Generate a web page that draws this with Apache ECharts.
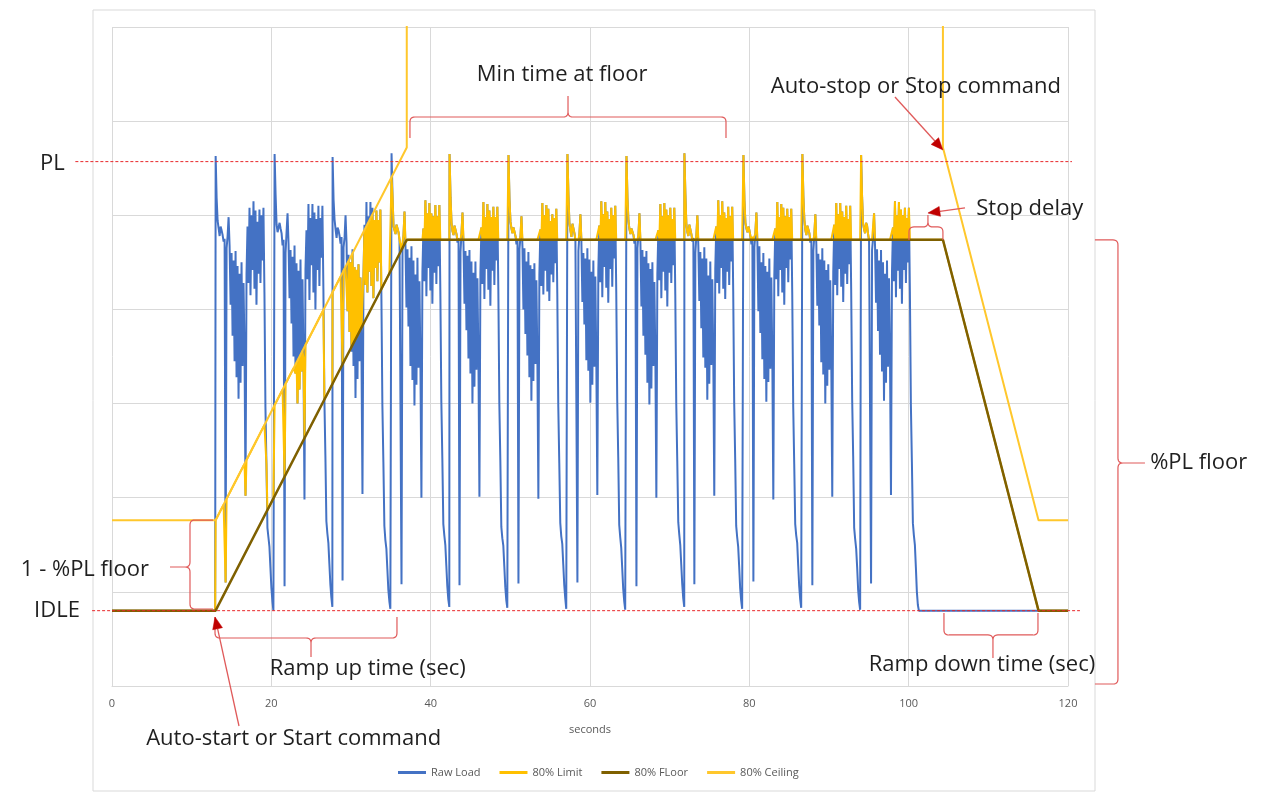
<!DOCTYPE html>
<html><head><meta charset="utf-8">
<script src="https://cdn.jsdelivr.net/npm/echarts@6/dist/echarts.min.js"></script>
<style>html,body{margin:0;padding:0;background:#fff}#c{width:1270px;height:812px}</style>
</head><body><div id="c"></div>
<script>
// ---------- data ----------
const IDLE = 80;
const PL = 557;
const xMin = 0, xMax = 120, xStep = 20;
const yMin = 0, yMax = 700, yStep = 100;

const floorTimes  = [0, 13, 37, 104.3, 116.3, 120];
const floorValues = [80, 80, 474, 474, 80, 80];

const ceilingTimes  = [0, 13, 37, 37, 104.3, 104.3, 116.3, 120];
const ceilingValues = [176, 176, 572, 1000, 1000, 572, 176, 176];

const rawLead = [[0, 80], [12.95, 80]];
const rawTail = [[104.3, 80], [116.3, 80], [120, 80]];
const cycleStep = 0.125;
const cycleStarts = [13.01, 20.41, 27.69, 35.09, 42.37, 49.77, 57.17, 64.58, 71.85, 79.26, 86.66, 94.03];
const cycle1  = [563,518,494,486,478,488,484,479,472,475,110,465,478,498,468,405,460,372,452,345,462,328,446,305,438,322,450,340,428,355,202,438,488,428,508,415,500,442,515,422,505,405,493,438,506,428,500,452,508,418,296,236,168,158,148,126,104,90,80];
const cycle2  = [565,522,490,482,480,492,486,481,468,474,106,460,482,502,470,412,463,385,456,350,468,332,449,300,441,315,453,334,432,348,198,442,484,432,512,410,497,447,512,418,503,400,496,442,510,425,497,455,510,422,305,245,175,162,152,130,108,94,84];
const cycle3  = [562,516,495,485,476,487,484,478,470,477,112,466,476,500,471,398,458,376,450,355,464,340,445,306,442,326,448,345,434,352,204,436,490,426,514,418,499,440,514,425,508,412,495,444,505,430,495,450,506,415,298,238,170,155,146,124,102,90,82];
const cycle4  = [566,520,488,484,480,490,490,482,474,472,108,463,479,504,466,402,464,382,455,340,467,325,452,298,437,320,455,338,430,342,200,440,486,430,516,414,502,444,513,420,502,406,499,439,511,427,499,446,511,420,302,242,172,160,150,128,106,92,84];
const cycle5  = [565,519,492,483,479,489,487,480,471,476,107,461,481,503,469,406,462,378,457,348,463,332,451,300,439,318,451,336,433,346,201,439,487,427,514,411,498,443,512,421,505,404,498,441,509,426,498,452,509,421,300,240,169,157,149,127,105,91,83];
const cycle6  = [564,517,493,486,481,487,485,478,469,474,109,464,477,499,467,400,465,374,451,351,461,328,447,303,443,324,449,342,431,347,199,437,485,425,513,416,500,441,511,419,507,409,494,437,501,429,497,449,507,417,297,237,173,159,151,129,107,93,82];
const cycle7  = [565,521,491,484,477,491,489,481,473,475,110,462,480,501,472,408,460,384,454,346,465,335,453,301,440,320,452,339,435,344,203,441,489,429,515,413,501,445,514,423,504,407,496,443,508,424,500,454,510,419,303,243,171,158,147,125,103,90,81];
const cycle8  = [563,518,494,485,480,486,486,479,470,473,106,465,479,502,470,403,463,372,456,352,462,322,449,299,443,316,450,340,429,349,200,438,484,431,512,412,499,440,513,420,506,403,500,439,508,428,496,447,508,416,299,239,174,161,150,129,108,93,84];
const cycle9  = [566,522,490,482,478,490,488,480,472,476,108,460,478,500,468,409,461,380,454,349,466,338,454,304,436,321,451,341,432,351,202,443,488,428,516,417,500,444,515,422,503,411,497,440,509,426,499,451,509,420,301,241,170,158,148,127,104,91,82];
const cycle10 = [564,516,492,486,482,488,484,478,469,477,111,466,481,503,471,398,467,375,450,347,460,326,446,302,440,323,454,337,434,348,198,436,486,432,514,414,498,442,512,418,508,405,499,444,507,429,498,453,507,418,296,236,172,160,152,128,106,92,83];
const cycle11 = [565,520,495,484,479,489,487,481,471,475,107,462,479,501,469,404,459,383,453,344,465,331,452,300,442,319,448,336,431,345,201,440,490,426,513,415,501,443,513,424,504,408,498,438,510,427,496,448,510,421,304,244,168,156,146,126,102,89,81];
const cycle12 = [564,519,491,485,481,492,489,480,473,474,109,463,476,502,467,407,464,377,452,352,463,334,450,303,438,322,452,339,433,350,203,439,487,430,515,413,500,441,514,422,506,406,500,442,508,428,497,450,508,419,298,238,173,160,150,126,100,86,80];
const cycleLoads = [cycle1, cycle2, cycle3, cycle4, cycle5, cycle6, cycle7, cycle8, cycle9, cycle10, cycle11, cycle12];

const seriesNames = ['Raw Load', '80% Limit', '80% FLoor', '80% Ceiling'];

// ---------- build series ----------
function zip(ts, vs) { return ts.map((t, i) => [t, vs[i]]); }
function lineAt(ts, vs, t) {
  for (let i = 0; i < ts.length - 1; i++) {
    if (t >= ts[i] && t <= ts[i + 1] && ts[i + 1] > ts[i]) {
      return vs[i] + (vs[i + 1] - vs[i]) * (t - ts[i]) / (ts[i + 1] - ts[i]);
    }
  }
  return vs[vs.length - 1];
}
const rawData = rawLead.slice();
cycleStarts.forEach((t0, k) => {
  cycleLoads[k].forEach((v, i) => rawData.push([+(t0 + i * cycleStep).toFixed(4), v]));
});
rawTail.forEach(p => rawData.push(p));
// 80% Limit = raw load held between the floor and the ceiling
const limitData = rawData.map(([t, v]) => {
  const f = lineAt(floorTimes, floorValues, t);
  const c = lineAt(ceilingTimes, ceilingValues, t);
  return [t, Math.min(Math.max(v, f), c)];
});

const chart = echarts.init(document.getElementById('c'), null, { renderer: 'canvas' });
const FONT = '"Open Sans", "Noto Sans", sans-serif';
chart.setOption({
  animation: false,
  backgroundColor: '#ffffff',
  grid: { left: 112, right: 202, top: 27, bottom: 126, containLabel: false, outerBoundsMode: 'none' },
  legend: {
    data: seriesNames, left: 393, top: 762, icon: 'rect', itemWidth: 28, itemHeight: 3, itemGap: 19,
    textStyle: { color: '#595959', fontSize: 11, fontFamily: FONT }
  },
  xAxis: {
    type: 'value', min: xMin, max: xMax, interval: xStep,
    name: 'seconds', nameLocation: 'middle', nameGap: 38,
    nameTextStyle: { color: '#595959', fontSize: 11, fontFamily: FONT },
    axisLine: { show: true, lineStyle: { color: '#D9D9D9' } },
    axisTick: { show: false },
    axisLabel: { color: '#595959', fontSize: 11, fontFamily: FONT, margin: 12 },
    splitLine: { show: true, lineStyle: { color: '#D9D9D9', width: 1 } }
  },
  yAxis: {
    type: 'value', min: yMin, max: yMax, interval: yStep,
    axisLine: { show: false }, axisTick: { show: false }, axisLabel: { show: false },
    splitLine: { show: true, lineStyle: { color: '#D9D9D9', width: 1 } }
  },
  series: [
    { name: seriesNames[0], type: 'line', data: rawData, showSymbol: false, clip: true,
      lineStyle: { color: '#4472C4', width: 2 }, itemStyle: { color: '#4472C4' }, z: 2 },
    { name: seriesNames[1], type: 'line', data: limitData, showSymbol: false, clip: true,
      lineStyle: { color: '#FFC000', width: 2 }, itemStyle: { color: '#FFC000' }, z: 3 },
    { name: seriesNames[2], type: 'line', data: zip(floorTimes, floorValues), showSymbol: false, clip: true,
      lineStyle: { color: '#7F6000', width: 2.5 }, itemStyle: { color: '#7F6000' }, z: 4 },
    { name: seriesNames[3], type: 'line', data: zip(ceilingTimes, ceilingValues), showSymbol: false, clip: true,
      lineStyle: { color: '#FFC72C', width: 2 }, itemStyle: { color: '#FFC72C' }, z: 5 }
  ]
});

// ---------- annotations (placed through the chart's own scales) ----------
const P = (t, v) => chart.convertToPixel({ gridIndex: 0 }, [t, v]);
const RED = '#E05A5A', DARKRED = '#C00000', TXT = '#1F1F1F';
const g = [];
function text(str, t, v) {
  const [x, y] = P(t, v);
  g.push({ type: 'text', z: 100, x: x, y: y,
    style: { text: str, font: '22px ' + FONT, fill: TXT, align: 'center', verticalAlign: 'middle',
      textAlign: 'center', textVerticalAlign: 'middle' } });
}
function dashed(t1, t2, v) {
  const [x1, y] = P(t1, v); const [x2] = P(t2, v);
  g.push({ type: 'line', z: 90, shape: { x1: x1, y1: y, x2: x2, y2: y },
    style: { stroke: '#E8272A', lineWidth: 1, lineDash: [3, 2] } });
}
function quad(p0, c, p1) {
  const out = [];
  for (let i = 1; i <= 6; i++) {
    const u = i / 6, a = (1 - u) * (1 - u), b = 2 * (1 - u) * u, d = u * u;
    out.push([a * p0[0] + b * c[0] + d * p1[0], a * p0[1] + b * c[1] + d * p1[1]]);
  }
  return out;
}
function polyline(pts) {
  g.push({ type: 'polyline', z: 95, shape: { points: pts }, style: { stroke: RED, fill: null, lineWidth: 1.2 } });
}
function hBrace(t1, t2, vEnd, vBar, tm, vTip) {
  const [x1, yEnd] = P(t1, vEnd); const [x2, yBar] = P(t2, vBar); const [xm, yTip] = P(tm, vTip);
  const r = 5, e = Math.sign(yEnd - yBar), s = Math.sign(yTip - yBar);
  let pts = [[x1, yEnd], [x1, yBar + e * r]];
  pts = pts.concat(quad([x1, yBar + e * r], [x1, yBar], [x1 + r, yBar]));
  pts.push([xm - r, yBar]);
  pts = pts.concat(quad([xm - r, yBar], [xm, yBar], [xm, yBar + s * r]));
  pts.push([xm, yTip], [xm, yBar + s * r]);
  pts = pts.concat(quad([xm, yBar + s * r], [xm, yBar], [xm + r, yBar]));
  pts.push([x2 - r, yBar]);
  pts = pts.concat(quad([x2 - r, yBar], [x2, yBar], [x2, yBar + e * r]));
  pts.push([x2, yEnd]);
  polyline(pts);
}
function vBrace(v1, v2, tEnd, tBar, vm, tTip) {
  const [xEnd, y1] = P(tEnd, v1); const [xBar, y2] = P(tBar, v2); const [xTip, ym] = P(tTip, vm);
  const r = 5, e = Math.sign(xEnd - xBar), s = Math.sign(xTip - xBar), dy = Math.sign(y2 - y1);
  let pts = [[xEnd, y1], [xBar + e * r, y1]];
  pts = pts.concat(quad([xBar + e * r, y1], [xBar, y1], [xBar, y1 + dy * r]));
  pts.push([xBar, ym - dy * r]);
  pts = pts.concat(quad([xBar, ym - dy * r], [xBar, ym], [xBar + s * r, ym]));
  pts.push([xTip, ym], [xBar + s * r, ym]);
  pts = pts.concat(quad([xBar + s * r, ym], [xBar, ym], [xBar, ym + dy * r]));
  pts.push([xBar, y2 - dy * r]);
  pts = pts.concat(quad([xBar, y2 - dy * r], [xBar, y2], [xBar + e * r, y2]));
  pts.push([xEnd, y2]);
  polyline(pts);
}
function arrow(tA, vA, tB, vB) {
  const [x1, y1] = P(tA, vA); const [x2, y2] = P(tB, vB);
  const L = Math.hypot(x2 - x1, y2 - y1), ux = (x2 - x1) / L, uy = (y2 - y1) / L;
  const hl = 12, hw = 5;
  const bx = x2 - ux * hl, by = y2 - uy * hl;
  g.push({ type: 'line', z: 96, shape: { x1: x1, y1: y1, x2: bx, y2: by }, style: { stroke: RED, lineWidth: 1.3 } });
  g.push({ type: 'polygon', z: 97, shape: { points: [[x2, y2], [bx - uy * hw, by + ux * hw], [bx + uy * hw, by - ux * hw]] },
    style: { fill: DARKRED, stroke: DARKRED, lineWidth: 0.5 } });
}

// chart frame
g.push({ type: 'rect', z: 0, shape: { x: 93, y: 10, width: 1002, height: 781 },
  style: { fill: null, stroke: '#D9D9D9', lineWidth: 1 } });

dashed(-4.6, 120.5, PL);
dashed(-2.5, 121.5, IDLE);

text('PL', -7.5, 555);
text('IDLE', -6.9, 80);
text('1 - %PL floor', -3.4, 124);
text('Min time at floor', 56.5, 649);
text('Auto-stop or Stop command', 100.9, 637);
text('Stop delay', 115.2, 507);
text('%PL floor', 136.4, 237);
text('Ramp up time (sec)', 32.1, 18);
text('Ramp down time (sec)', 109.2, 23);
text('Auto-start or Start command', 22.8, -56);

hBrace(37.4, 77.07, 582, 604.4, 57.24, 626.7);
hBrace(12.93, 35.77, 73.3, 51, 24.98, 30.8);
hBrace(104.43, 116.23, 77.5, 54.2, 110.58, 29.7);
hBrace(100.04, 104.3, 473.8, 487.6, 102.42, 500.3);
vBrace(176.3, 81.8, 12.68, 9.79, 126.4, 7.28);
vBrace(473.8, 2.1, 123.38, 126.27, 236.9, 129.66);

arrow(15.94, -42.5, 12.93, 73.3);
arrow(98.28, 625.7, 104.3, 569.4);
arrow(107.07, 507.8, 102.42, 502.4);

chart.setOption({ graphic: { elements: g } });
</script>
</body></html>
